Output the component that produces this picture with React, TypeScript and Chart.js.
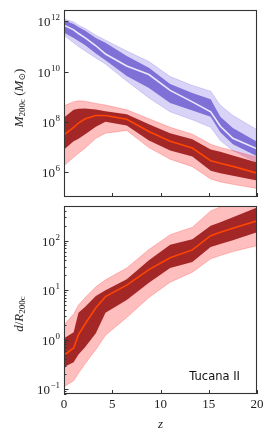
import React, { useEffect, useRef } from 'react';
import { Chart, registerables } from 'chart.js';

Chart.register(...registerables);

// ---------- data ----------
const redshifts = [0, 1, 1.5, 2.2, 3.3, 4.3, 6.5, 8.8, 11, 13.3, 15.2, 16.2, 17.5, 20];

// host halo mass M200c (Msun)
const hostMedian = [7.1e11, 4.6e11, 3.3e11, 2.2e11, 1.07e11, 5.0e10, 1.66e10, 7.6e9, 1.78e9, 6.2e8, 2.5e8, 6.6e7, 2.2e7, 8.3e6];
const hostInnerHigh = [1.12e12, 7.9e11, 6.0e11, 4.2e11, 2.2e11, 1.41e11, 4.2e10, 1.41e10, 3.2e9, 1.41e9, 7.9e8, 1.58e8, 5.6e7, 1.58e7];
const hostInnerLow = [3.5e11, 2.2e11, 1.66e11, 1.12e11, 5.2e10, 2.8e10, 6.6e9, 2.2e9, 5.6e8, 2.8e8, 1.58e8, 3.8e7, 1.26e7, 4.2e6];
const hostOuterHigh = [1.26e12, 9.5e11, 7.1e11, 5.2e11, 2.8e11, 1.78e11, 6.6e10, 2.5e10, 6.3e9, 2.8e9, 1.66e9, 4.5e8, 1.78e8, 4.8e7];
const hostOuterLow = [2.8e11, 1.41e11, 1.0e11, 6.6e10, 3.5e10, 2.0e10, 4.2e9, 8.9e8, 2.5e8, 1.2e8, 6.0e7, 1.78e7, 7.1e6, 2.4e6];

// satellite (Tucana II) halo mass M200c (Msun)
const satMedian = [3.0e7, 6.0e7, 8.9e7, 1.32e8, 1.78e8, 1.78e8, 1.26e8, 4.1e7, 1.66e7, 8.9e6, 2.8e6, 2.2e6, 1.66e6, 8.9e5];
const satInnerHigh = [1.48e8, 3.0e8, 3.3e8, 3.4e8, 3.1e8, 2.6e8, 2.0e8, 7.9e7, 3.5e7, 2.0e7, 7.9e6, 6.3e6, 4.5e6, 2.4e6];
const satInnerLow = [7.9e6, 1.66e7, 2.1e7, 3.2e7, 6.3e7, 1.0e8, 7.1e7, 1.78e7, 7.1e6, 4.1e6, 1.12e6, 8.9e5, 7.1e5, 4.5e5];
const satOuterHigh = [4.3e8, 6.3e8, 6.8e8, 6.6e8, 5.4e8, 4.6e8, 3.0e8, 1.32e8, 6.0e7, 3.2e7, 1.26e7, 9.5e6, 7.1e6, 3.8e6];
const satOuterLow = [1.78e6, 3.8e6, 5.6e6, 8.9e6, 2.2e7, 3.5e7, 4.5e7, 9.3e6, 3.2e6, 1.62e6, 5.2e5, 4.0e5, 3.2e5, 2.2e5];

// distance d / R200c
const distMedian = [0.49, 0.68, 1.26, 2.1, 4.4, 7.4, 12.6, 26, 45, 65, 126, 148, 178, 251];
const distInnerHigh = [1.07, 1.41, 3.5, 4.6, 7.6, 10, 16.6, 40, 83, 107, 200, 234, 295, 468];
const distInnerLow = [0.28, 0.35, 0.5, 0.71, 1.35, 3.5, 6.3, 14.1, 28, 37, 74, 85, 102, 148];
const distOuterHigh = [2.0, 3.3, 5.0, 7.1, 11.7, 16.2, 28, 66, 132, 186, 398, 479, 603, 891];
const distOuterLow = [0.112, 0.148, 0.209, 0.33, 0.63, 1.23, 2.8, 7.1, 14.5, 23, 43, 50, 60, 79];

// ticks
const xTicks = [0, 5, 10, 15, 20];
const xTickLabels = ['0', '5', '10', '15', '20'];
const massTicks = [1e6, 1e8, 1e10, 1e12];
const massTickExponents = ['6', '8', '10', '12'];
const distTicks = [1e-1, 1e0, 1e1, 1e2];
const distTickExponents = ['\u22121', '0', '1', '2'];
const galaxyName = 'Tucana II';

// ---------- styling ----------
const SERIF = '"Liberation Serif", "DejaVu Serif", serif';
const FRAME = '#333333';

const blueLight = 'rgba(118,100,225,0.28)';
const blueLightEdge = 'rgba(118,100,225,0.32)';
const blueDark = 'rgba(104,88,208,0.8)';
const blueLine = '#ebe9fb';
const redLight = 'rgba(255,40,40,0.3)';
const redLightEdge = 'rgba(255,40,40,0.32)';
const redDark = 'rgba(158,32,32,0.95)';
const redLine = '#ff4500';

const pts = (vals: number[]) => redshifts.map((z, i) => ({ x: z, y: vals[i] }));

function band(low: number[], high: number[], lowIndex: number, fillColor: string, edge: string, order: number, edgeWidth: number) {
  return [
    {
      data: pts(low),
      borderColor: edge,
      borderWidth: edgeWidth,
      pointRadius: 0,
      fill: false,
      order,
    },
    {
      data: pts(high),
      borderColor: edge,
      borderWidth: edgeWidth,
      pointRadius: 0,
      fill: { target: lowIndex },
      backgroundColor: fillColor,
      order,
    },
  ];
}

function drawExpLabel(ctx: CanvasRenderingContext2D, exp: string, xRight: number, y: number) {
  ctx.font = `13px ${SERIF}`;
  const w1 = ctx.measureText('10').width;
  ctx.font = `9px ${SERIF}`;
  const w2 = ctx.measureText(exp).width;
  const x0 = xRight - w1 - w2 - 0.5;
  ctx.textAlign = 'left';
  ctx.textBaseline = 'middle';
  ctx.font = `13px ${SERIF}`;
  ctx.fillText('10', x0, y + 1);
  ctx.font = `9px ${SERIF}`;
  ctx.fillText(exp, x0 + w1 + 0.5, y - 3.5);
}

type Piece = { t: string; italic?: boolean; sub?: boolean };

function drawRich(ctx: CanvasRenderingContext2D, pieces: Piece[], cx: number, cy: number, rotate: boolean) {
  ctx.save();
  ctx.translate(cx, cy);
  if (rotate) ctx.rotate(-Math.PI / 2);
  const fontOf = (p: Piece) => `${p.italic ? 'italic ' : ''}${p.sub ? 9 : 13}px ${SERIF}`;
  let total = 0;
  for (const p of pieces) {
    ctx.font = fontOf(p);
    total += ctx.measureText(p.t).width;
  }
  let x = -total / 2;
  ctx.textBaseline = 'alphabetic';
  ctx.textAlign = 'left';
  for (const p of pieces) {
    ctx.font = fontOf(p);
    ctx.fillText(p.t, x, p.sub ? 7 : 4.5);
    x += ctx.measureText(p.t).width;
  }
  ctx.restore();
}

function decorPlugin(panel: 'top' | 'bottom') {
  return {
    id: 'decor',
    afterDraw(chart: any) {
      const ctx: CanvasRenderingContext2D = chart.ctx;
      const a = chart.chartArea;
      const xs = chart.scales.x;
      const ys = chart.scales.y;
      ctx.save();
      ctx.strokeStyle = FRAME;
      ctx.fillStyle = '#222';
      ctx.lineWidth = 1;
      // x ticks (inside)
      xTicks.forEach((v) => {
        const px = Math.round(xs.getPixelForValue(v)) + 0.5;
        ctx.beginPath();
        ctx.moveTo(px, a.bottom);
        ctx.lineTo(px, a.bottom - 4);
        ctx.stroke();
      });
      const majors = panel === 'top' ? massTicks : distTicks;
      const exps = panel === 'top' ? massTickExponents : distTickExponents;
      majors.forEach((v, i) => {
        const py = Math.round(ys.getPixelForValue(v)) + 0.5;
        ctx.beginPath();
        ctx.moveTo(a.left, py);
        ctx.lineTo(a.left + 4.5, py);
        ctx.stroke();
        drawExpLabel(ctx, exps[i], 60, py);
      });
      if (panel === 'bottom') {
        for (let e = -2; e <= 2; e++) {
          for (let k = 2; k <= 9; k++) {
            const v = k * Math.pow(10, e);
            if (v < ys.min || v > ys.max) continue;
            const py = Math.round(ys.getPixelForValue(v)) + 0.5;
            ctx.beginPath();
            ctx.moveTo(a.left, py);
            ctx.lineTo(a.left + 2.5, py);
            ctx.stroke();
          }
        }
        // x tick labels
        ctx.font = `13px ${SERIF}`;
        ctx.textAlign = 'center';
        ctx.textBaseline = 'middle';
        xTicks.forEach((v, i) => {
          ctx.fillText(xTickLabels[i], xs.getPixelForValue(v), a.bottom + 11);
        });
        drawRich(ctx, [{ t: 'z', italic: true }], (a.left + a.right) / 2, a.bottom + 29, false);
        drawRich(
          ctx,
          [{ t: 'd', italic: true }, { t: '/' }, { t: 'R', italic: true }, { t: '200c', sub: true }],
          18,
          113,
          true
        );
        ctx.font = `11.5px "DejaVu Sans", sans-serif`;
        ctx.textAlign = 'right';
        ctx.textBaseline = 'alphabetic';
        ctx.fillStyle = '#111';
        ctx.fillText(galaxyName, 240, a.bottom - 14);
      } else {
        drawRich(
          ctx,
          [
            { t: 'M', italic: true },
            { t: '200c', sub: true },
            { t: ' (' },
            { t: 'M', italic: true },
            { t: '\u2299', sub: true },
            { t: ')' },
          ],
          18,
          98,
          true
        );
      }
      // frame
      ctx.strokeStyle = FRAME;
      ctx.lineWidth = 1.1;
      ctx.strokeRect(a.left + 0.5, a.top + 0.5, a.right - a.left - 1, a.bottom - a.top - 1);
      ctx.restore();
    },
  };
}

function baseOptions(yMin: number, yMax: number, padTop: number, xHeight: number) {
  return {
    responsive: false,
    animation: false as const,
    events: [],
    layout: { padding: { left: 0, right: 17, top: padTop, bottom: 0 } },
    plugins: { legend: { display: false }, tooltip: { enabled: false } },
    elements: { line: { tension: 0 } },
    scales: {
      x: {
        type: 'linear' as const,
        min: 0,
        max: 20,
        grid: { display: false },
        border: { display: false },
        ticks: { display: false },
        afterFit: (s: any) => {
          s.height = xHeight;
        },
      },
      y: {
        type: 'logarithmic' as const,
        min: yMin,
        max: yMax,
        grid: { display: false },
        border: { display: false },
        ticks: { display: false },
        afterFit: (s: any) => {
          s.width = 64;
        },
      },
    },
  };
}

function TopPanel() {
  const ref = useRef<HTMLCanvasElement>(null);
  useEffect(() => {
    if (!ref.current) return;
    const datasets: any[] = [
      ...band(hostOuterLow, hostOuterHigh, 0, blueLight, blueLightEdge, 60, 0.8), // 0,1
      ...band(hostInnerLow, hostInnerHigh, 2, blueDark, 'rgba(0,0,0,0)', 50, 0), // 2,3
      ...band(satOuterLow, satOuterHigh, 4, redLight, redLightEdge, 40, 0.8), // 4,5
      ...band(satInnerLow, satInnerHigh, 6, redDark, 'rgba(0,0,0,0)', 30, 0), // 6,7
      { data: pts(hostMedian), borderColor: blueLine, borderWidth: 1.6, pointRadius: 0, fill: false, order: 20 },
      { data: pts(satMedian), borderColor: redLine, borderWidth: 1.6, pointRadius: 0, fill: false, order: 10 },
    ];
    const chart = new Chart(ref.current, {
      type: 'line',
      data: { datasets },
      options: baseOptions(1e5, 2.85e12, 10, 4) as any,
      plugins: [decorPlugin('top') as any],
    });
    return () => chart.destroy();
  }, []);
  return <canvas ref={ref} width={274} height={201} style={{ position: 'absolute', left: 0, top: 0 }} />;
}

function BottomPanel() {
  const ref = useRef<HTMLCanvasElement>(null);
  useEffect(() => {
    if (!ref.current) return;
    const datasets: any[] = [
      ...band(distOuterLow, distOuterHigh, 0, redLight, redLightEdge, 40, 0.8),
      ...band(distInnerLow, distInnerHigh, 2, redDark, 'rgba(0,0,0,0)', 30, 0),
      { data: pts(distMedian), borderColor: redLine, borderWidth: 1.6, pointRadius: 0, fill: false, order: 10 },
    ];
    const chart = new Chart(ref.current, {
      type: 'line',
      data: { datasets },
      options: baseOptions(0.08, 500, 5, 47) as any,
      plugins: [decorPlugin('bottom') as any],
    });
    return () => chart.destroy();
  }, []);
  return <canvas ref={ref} width={274} height={240} style={{ position: 'absolute', left: 0, top: 201 }} />;
}

export default function App() {
  return (
    <div style={{ position: 'absolute', left: 0, top: 0, width: 274, height: 441, background: '#fff' }}>
      <TopPanel />
      <BottomPanel />
    </div>
  );
}
